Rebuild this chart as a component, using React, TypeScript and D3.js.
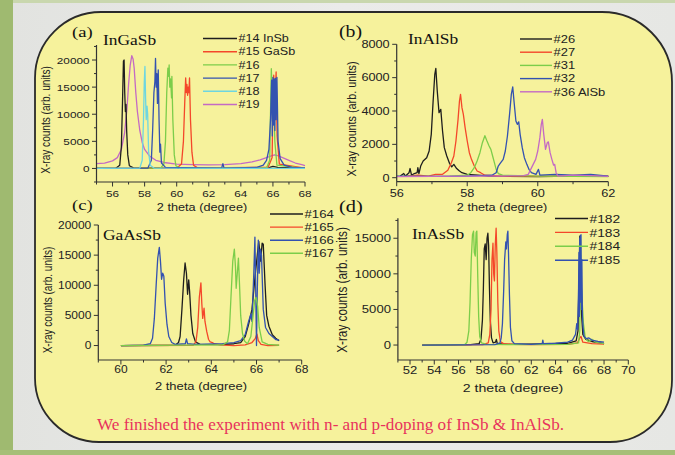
import React from "react";
import * as d3 from "d3";

type Pt = [number, number];

// ---- (a) InGaSb ----
const aNames = ["#14 InSb", "#15 GaSb", "#16", "#17", "#18", "#19"];
const aXTicks = [56, 58, 60, 62, 64, 66, 68];
const aYTicks = [0, 5000, 10000, 15000, 20000];
const a14: Pt[] = [[55, 0], [56.2, 50], [56.45, 600], [56.55, 4000], [56.62, 12000], [56.68, 19800], [56.72, 20000], [56.76, 14000], [56.8, 10500], [56.84, 11800], [56.88, 7000], [56.95, 2500], [57.05, 500], [57.3, 100], [60, 30], [65, 50], [65.8, 200], [66, 400], [66.3, 200], [68, 30]];
const a15: Pt[] = [[55, 0], [60, 50], [60.3, 800], [60.42, 5000], [60.5, 12000], [60.56, 16700], [60.6, 14000], [60.64, 15500], [60.68, 13500], [60.72, 15000], [60.76, 14000], [60.8, 16700], [60.86, 9000], [60.95, 3000], [61.05, 600], [61.3, 100], [65.7, 200], [65.95, 2000], [66.01, 14000], [66.05, 17200], [66.12, 12000], [66.2, 17800], [66.26, 6000], [66.4, 800], [68, 50]];
const a16: Pt[] = [[55, 0], [59, 50], [59.2, 800], [59.3, 5000], [59.38, 14000], [59.45, 18500], [59.5, 17000], [59.53, 19100], [59.57, 15000], [59.62, 16500], [59.68, 13000], [59.7, 17000], [59.76, 9000], [59.85, 2500], [59.95, 500], [60.2, 50], [65.6, 100], [65.8, 1500], [65.86, 12000], [65.9, 18400], [65.95, 14000], [66.03, 16000], [66.12, 5000], [66.25, 600], [68, 30]];
const a17: Pt[] = [[55, 0], [58.2, 50], [58.42, 1500], [58.5, 7000], [58.58, 14000], [58.64, 16000], [58.68, 20300], [58.72, 15000], [58.76, 17500], [58.8, 12000], [58.85, 18200], [58.9, 9000], [58.95, 3000], [58.99, 4500], [59.05, 1000], [59.3, 200], [62.8, 50], [62.88, 900], [62.95, 50], [65, 200], [65.4, 600], [65.6, 1500], [65.75, 3500], [65.85, 9000], [65.92, 16300], [65.96, 6000], [66.0, 16800], [66.04, 8000], [66.08, 16500], [66.12, 7000], [66.16, 16600], [66.2, 9000], [66.25, 16800], [66.32, 5000], [66.45, 1800], [66.7, 600], [67.2, 200], [68, 100]];
const a18: Pt[] = [[55, 0], [57.7, 50], [57.85, 1500], [57.93, 9000], [57.98, 16000], [58.02, 18800], [58.06, 13000], [58.1, 9000], [58.15, 11500], [58.19, 10000], [58.25, 3000], [58.35, 600], [58.6, 50], [68, 0]];
const a19: Pt[] = [[55, 900], [55.5, 1000], [56, 1400], [56.3, 2000], [56.55, 3500], [56.75, 6500], [56.9, 11000], [57.0, 15500], [57.1, 19000], [57.2, 20800], [57.28, 20200], [57.35, 18500], [57.45, 14000], [57.55, 10500], [57.7, 7000], [57.85, 4800], [58, 3500], [58.3, 2300], [58.7, 1500], [59.2, 1100], [60, 800], [61, 700], [62, 650], [63, 700], [64, 900], [64.7, 1200], [65.2, 1600], [65.6, 2000], [65.9, 2300], [66.1, 2500], [66.3, 2350], [66.6, 2000], [67, 1500], [67.4, 1000], [67.8, 700], [68, 500]];

// ---- (b) InAlSb ----
const bNames = ["#26", "#27", "#31", "#32", "#36 AlSb"];
const bXTicks = [56, 58, 60, 62];
const bYTicks = [0, 2000, 4000, 6000, 8000];
const b26: Pt[] = [[56.1, 100], [56.2, 250], [56.25, 100], [56.35, 300], [56.38, 550], [56.42, 150], [56.5, 250], [56.58, 300], [56.6, 600], [56.63, 250], [56.68, 700], [56.75, 1000], [56.85, 1200], [56.92, 1600], [56.98, 2600], [57.03, 4500], [57.08, 6200], [57.11, 6550], [57.15, 5200], [57.2, 3900], [57.25, 4100], [57.3, 2800], [57.35, 1800], [57.42, 1300], [57.5, 850], [57.56, 650], [57.62, 800], [57.7, 550], [57.78, 400], [57.85, 300], [58, 200], [58.3, 150], [58.6, 100], [59, 80], [60, 60], [61, 100], [62, 80]];
const b27: Pt[] = [[56.3, 100], [56.6, 150], [56.9, 100], [57.1, 200], [57.3, 200], [57.45, 450], [57.55, 900], [57.62, 1300], [57.68, 2200], [57.74, 3500], [57.78, 4600], [57.81, 5000], [57.85, 4200], [57.89, 3800], [57.94, 3000], [58.0, 2200], [58.06, 1500], [58.12, 1100], [58.2, 700], [58.28, 400], [58.38, 300], [58.5, 150], [58.9, 100], [59.5, 100], [60.5, 80], [61.5, 120], [62, 80]];
const b31: Pt[] = [[56, 80], [57.5, 100], [58.0, 150], [58.1, 300], [58.2, 600], [58.28, 1000], [58.36, 1500], [58.43, 2100], [58.5, 2520], [58.56, 2200], [58.62, 1900], [58.67, 1700], [58.72, 1300], [58.77, 900], [58.82, 500], [58.88, 250], [59, 150], [60, 100], [61, 80], [62, 60]];
const b32: Pt[] = [[56, 100], [57, 80], [58, 100], [58.7, 150], [58.82, 300], [58.88, 700], [58.95, 900], [59.02, 1100], [59.08, 1600], [59.14, 2500], [59.2, 3800], [59.25, 5000], [59.29, 5450], [59.33, 4500], [59.38, 3400], [59.42, 3200], [59.46, 3350], [59.5, 2600], [59.56, 1800], [59.62, 1200], [59.69, 800], [59.75, 500], [59.82, 300], [59.95, 200], [60.02, 500], [60.06, 150], [60.5, 200], [61, 150], [61.5, 200], [62, 100]];
const b36: Pt[] = [[56, 60], [57, 80], [58, 100], [59, 100], [59.6, 120], [59.73, 200], [59.8, 500], [59.87, 800], [59.94, 1100], [60.0, 1600], [60.06, 2400], [60.1, 3200], [60.13, 3500], [60.17, 2600], [60.22, 1700], [60.27, 2100], [60.3, 2150], [60.35, 1500], [60.4, 1100], [60.45, 750], [60.48, 800], [60.52, 300], [60.57, 100], [61, 150], [61.5, 120], [62, 80]];

// ---- (c) GaAsSb ----
const cNames = ["#164", "#165", "#166", "#167"];
const cXTicks = [60, 62, 64, 66, 68];
const cYTicks = [0, 5000, 10000, 15000, 20000];
const c164: Pt[] = [[60, 0], [62.4, 50], [62.55, 500], [62.62, 1500], [62.7, 6000], [62.78, 11000], [62.84, 13700], [62.9, 12000], [62.95, 8500], [63.0, 10900], [63.04, 9000], [63.1, 5000], [63.18, 2000], [63.3, 600], [63.5, 200], [64.5, 150], [65, 300], [65.3, 500], [65.5, 1500], [65.65, 3500], [65.8, 6000], [65.95, 12000], [66.1, 17300], [66.18, 14000], [66.25, 17000], [66.3, 16800], [66.38, 10000], [66.45, 5000], [66.55, 3200], [66.7, 1800], [66.85, 1200], [67, 800]];
const c165: Pt[] = [[60, 0], [63.2, 50], [63.32, 600], [63.4, 3000], [63.47, 8000], [63.54, 10400], [63.58, 7000], [63.62, 4500], [63.68, 6200], [63.72, 4000], [63.8, 2300], [63.88, 1000], [63.95, 600], [64.05, 500], [64.12, 300], [64.4, 100], [65, 0], [65.5, 100], [65.8, 500], [65.95, 1200], [66.02, 1900], [66.08, 800], [66.2, 200], [66.5, 0], [67, 50]];
const c166: Pt[] = [[60, 0], [61, 50], [61.3, 300], [61.4, 1200], [61.48, 4500], [61.56, 10000], [61.63, 14500], [61.7, 16300], [61.75, 14000], [61.8, 11000], [61.85, 12000], [61.9, 11500], [61.96, 7000], [62.04, 3500], [62.12, 1500], [62.25, 500], [62.4, 200], [62.85, 300], [62.9, 1100], [62.95, 300], [63.3, 200], [64.5, 300], [65, 500], [65.3, 800], [65.5, 1800], [65.65, 4000], [65.75, 5200], [65.8, 4000], [65.88, 12000], [65.93, 18000], [65.97, 8000], [66.0, 0], [66.03, 8000], [66.08, 17500], [66.12, 12000], [66.17, 16000], [66.22, 15000], [66.3, 6000], [66.4, 3000], [66.55, 2000], [66.7, 1500], [66.85, 1000], [67, 900]];
const c167: Pt[] = [[60, 0], [64.5, 100], [64.72, 600], [64.8, 2500], [64.87, 8000], [64.95, 14000], [65.02, 16000], [65.07, 13000], [65.1, 9500], [65.15, 12000], [65.2, 14500], [65.25, 10000], [65.3, 5000], [65.38, 2000], [65.48, 700], [65.6, 300], [65.75, 1500], [65.85, 5000], [65.92, 7500], [65.98, 8000], [66.05, 6500], [66.12, 3000], [66.25, 600], [66.5, 200], [67, 50]];

// ---- (d) InAsSb ----
const dNames = ["#182", "#183", "#184", "#185"];
const dXTicks = [52, 54, 56, 58, 60, 62, 64, 66, 68, 70];
const dYTicks = [0, 5000, 10000, 15000];
const d182: Pt[] = [[53, 0], [57, 50], [57.7, 200], [57.85, 800], [57.97, 3500], [58.05, 8000], [58.12, 13500], [58.2, 14200], [58.28, 12000], [58.35, 15000], [58.42, 15700], [58.48, 14000], [58.55, 8000], [58.62, 3500], [58.72, 1000], [58.85, 300], [59.05, 400], [59.12, 800], [59.2, 200], [60, 100], [63, 150], [65, 250], [65.7, 600], [65.85, 2000], [65.95, 10000], [66.0, 15300], [66.05, 12000], [66.12, 5000], [66.25, 1500], [66.5, 800], [67, 500], [68, 200]];
const d183: Pt[] = [[53, 0], [58, 50], [58.45, 300], [58.58, 1500], [58.68, 5000], [58.76, 12000], [58.84, 14300], [58.9, 10000], [58.96, 9000], [59.03, 14000], [59.1, 16400], [59.16, 13000], [59.24, 6000], [59.32, 2000], [59.45, 500], [59.7, 200], [60.5, 100], [62, 50], [65, 100], [65.8, 300], [66.0, 1000], [66.1, 1200], [66.25, 400], [67, 200], [68, 150]];
const d184: Pt[] = [[53, 0], [56.5, 50], [56.7, 400], [56.85, 2000], [56.95, 6000], [57.05, 12000], [57.15, 15500], [57.24, 16000], [57.3, 13000], [57.38, 12500], [57.45, 15800], [57.51, 16000], [57.58, 10000], [57.66, 4000], [57.75, 1200], [57.9, 300], [58.3, 100], [60, 50], [65, 100], [65.9, 300], [66.0, 2000], [66.06, 14800], [66.1, 9000], [66.2, 6000], [66.3, 3000], [66.45, 1000], [66.7, 500], [67, 800], [67.3, 400], [68, 200]];
const d185: Pt[] = [[53, 0], [59, 50], [59.42, 300], [59.52, 1000], [59.62, 3000], [59.72, 7500], [59.8, 12000], [59.9, 14500], [59.95, 13500], [60.02, 15500], [60.07, 16000], [60.12, 13000], [60.2, 7000], [60.28, 2500], [60.4, 600], [60.6, 200], [62, 100], [62.9, 200], [62.95, 700], [63.0, 200], [64, 250], [65, 400], [65.4, 700], [65.65, 1500], [65.75, 3000], [65.82, 2200], [65.9, 8000], [65.93, 13000], [65.96, 4000], [65.99, 15000], [66.02, 6000], [66.05, 15400], [66.08, 8000], [66.1, 15500], [66.14, 5000], [66.17, 12000], [66.22, 4000], [66.27, 2500], [66.35, 1200], [66.55, 900], [66.75, 1000], [67, 700], [67.5, 500], [68, 400]];

const BLACK = "#1e1e1e";
const RED = "#f4472a";
const GREEN = "#7ccd4a";
const BLUE = "#3352b0";
const CYAN = "#6ed6e0";
const MAGENTA = "#c46ac4";

const SANS = "'Liberation Sans', Arial, sans-serif";
const SERIF = "'Liberation Serif', 'Times New Roman', serif";
const SX = 1.2; // the source figure is stretched sideways

type Series = { name: string; data: Pt[]; color: string };

type PanelCfg = {
  letter: string; title: string;
  series: Series[]; drawOrder: number[];
  xDomain: [number, number]; yDomain: [number, number];
  x0: number; x1: number; yb: number; yt: number;
  xTicks: number[]; yTicks: number[]; yMinor: number;
  tickFs: number; xTickDy: number;
  labFs: number; xLab: [number, number]; yLab: [number, number]; yLabFs: number;
  letterPos: [number, number]; letterFs: number; titlePos: [number, number];
  leg: { lx0: number; lx1: number; y0: number; dy: number; fs: number };
};

const panels: PanelCfg[] = [
  {
    letter: "(a)", title: "InGaSb",
    series: [
      { name: aNames[0], data: a14, color: BLACK },
      { name: aNames[1], data: a15, color: RED },
      { name: aNames[2], data: a16, color: GREEN },
      { name: aNames[3], data: a17, color: BLUE },
      { name: aNames[4], data: a18, color: CYAN },
      { name: aNames[5], data: a19, color: MAGENTA },
    ],
    drawOrder: [5, 0, 1, 2, 3, 4],
    xDomain: [55, 68], yDomain: [-2500, 22770],
    x0: 96.5, x1: 305, yb: 182, yt: 45,
    xTicks: aXTicks, yTicks: aYTicks, yMinor: 2500,
    tickFs: 9.8, xTickDy: 14.5,
    labFs: 10.6, xLab: [202, 211], yLab: [46, 120], yLabFs: 10.1,
    letterPos: [72, 37], letterFs: 15.5, titlePos: [103, 45],
    leg: { lx0: 203, lx1: 237, y0: 38.5, dy: 13.2, fs: 10.5 },
  },
  {
    letter: "(b)", title: "InAlSb",
    series: [
      { name: bNames[0], data: b26, color: BLACK },
      { name: bNames[1], data: b27, color: RED },
      { name: bNames[2], data: b31, color: GREEN },
      { name: bNames[3], data: b32, color: BLUE },
      { name: bNames[4], data: b36, color: MAGENTA },
    ],
    drawOrder: [0, 1, 2, 3, 4],
    xDomain: [56, 62], yDomain: [-240, 8000],
    x0: 396.7, x1: 608.3, yb: 181.7, yt: 44.3,
    xTicks: bXTicks, yTicks: bYTicks, yMinor: 1000,
    tickFs: 10.6, xTickDy: 15,
    labFs: 10.6, xLab: [502, 211], yLab: [352, 119], yLabFs: 10.8,
    letterPos: [339, 37], letterFs: 16.5, titlePos: [408, 44],
    leg: { lx0: 520, lx1: 552, y0: 39, dy: 13.2, fs: 10.8 },
  },
  {
    letter: "(c)", title: "GaAsSb",
    series: [
      { name: cNames[0], data: c164, color: BLACK },
      { name: cNames[1], data: c165, color: RED },
      { name: cNames[2], data: c166, color: BLUE },
      { name: cNames[3], data: c167, color: GREEN },
    ],
    drawOrder: [0, 1, 2, 3],
    xDomain: [59, 68], yDomain: [-2400, 20000],
    x0: 98.3, x1: 301.7, yb: 360, yt: 225,
    xTicks: cXTicks, yTicks: cYTicks, yMinor: 2500,
    tickFs: 10, xTickDy: 12.5,
    labFs: 10.8, xLab: [201, 390], yLab: [47.5, 300], yLabFs: 10,
    letterPos: [72, 210], letterFs: 15.5, titlePos: [103, 240],
    leg: { lx0: 270, lx1: 303, y0: 214, dy: 13.1, fs: 11 },
  },
  {
    letter: "(d)", title: "InAsSb",
    series: [
      { name: dNames[0], data: d182, color: BLACK },
      { name: dNames[1], data: d183, color: RED },
      { name: dNames[2], data: d184, color: GREEN },
      { name: dNames[3], data: d185, color: BLUE },
    ],
    drawOrder: [0, 1, 2, 3],
    xDomain: [51, 70], yDomain: [-2100, 17800],
    x0: 397.9, x1: 628.3, yb: 360, yt: 218.3,
    xTicks: dXTicks, yTicks: dYTicks, yMinor: 2500,
    tickFs: 10.9, xTickDy: 13.5,
    labFs: 11.8, xLab: [513, 392], yLab: [342, 290], yLabFs: 11.8,
    letterPos: [339, 212], letterFs: 17, titlePos: [412, 239],
    leg: { lx0: 555, lx1: 588, y0: 218.5, dy: 13.9, fs: 11.5 },
  },
];

function SText(props: {
  x: number; y: number; size: number; anchor?: string; family?: string;
  fill?: string; children: React.ReactNode; rotate?: boolean;
}) {
  const { x, y, size, anchor = "start", family = SANS, fill = "#222", rotate } = props;
  const tr = rotate
    ? `translate(${x},${y}) rotate(-90) scale(1,${SX})`
    : `translate(${x},${y}) scale(${SX},1)`;
  return (
    <text transform={tr} fontSize={size} fontFamily={family} fill={fill} textAnchor={anchor}
      dominantBaseline={rotate ? "central" : undefined}>
      {props.children}
    </text>
  );
}

function Panel({ cfg }: { cfg: PanelCfg }) {
  const x = d3.scaleLinear().domain(cfg.xDomain).range([cfg.x0, cfg.x1]);
  const y = d3.scaleLinear().domain(cfg.yDomain).range([cfg.yb, cfg.yt]);
  const line = d3.line<Pt>().x((d) => x(d[0])).y((d) => y(d[1]));
  const xMinor = d3.range(Math.ceil(cfg.xDomain[0]), cfg.xDomain[1] + 0.001, 1)
    .filter((v) => !cfg.xTicks.includes(v));
  const yMinor = d3.range(Math.ceil(cfg.yDomain[0] / cfg.yMinor) * cfg.yMinor, cfg.yDomain[1] + 1, cfg.yMinor)
    .filter((v) => !cfg.yTicks.includes(v));
  const axisColor = "#333";
  return (
    <g>
      {cfg.drawOrder.map((i) => (
        <path key={i} d={line(cfg.series[i].data) || ""} fill="none"
          stroke={cfg.series[i].color} strokeWidth={1.3} strokeLinejoin="round" />
      ))}
      <line x1={cfg.x0} x2={cfg.x0} y1={cfg.yb} y2={cfg.yt} stroke={axisColor} strokeWidth={1.2} />
      <line x1={cfg.x0} x2={cfg.x1} y1={cfg.yb} y2={cfg.yb} stroke={axisColor} strokeWidth={1.2} />
      {cfg.xTicks.map((t) => (
        <g key={"xt" + t}>
          <line x1={x(t)} x2={x(t)} y1={cfg.yb} y2={cfg.yb + 4.5} stroke={axisColor} strokeWidth={1} />
          <SText x={x(t)} y={cfg.yb + cfg.xTickDy} size={cfg.tickFs} anchor="middle">{t}</SText>
        </g>
      ))}
      {xMinor.map((t) => (
        <line key={"xm" + t} x1={x(t)} x2={x(t)} y1={cfg.yb} y2={cfg.yb + 2.5} stroke={axisColor} strokeWidth={1} />
      ))}
      {cfg.yTicks.map((t) => (
        <g key={"yt" + t}>
          <line x1={cfg.x0 - 4.5} x2={cfg.x0} y1={y(t)} y2={y(t)} stroke={axisColor} strokeWidth={1} />
          <SText x={cfg.x0 - 7} y={y(t) + cfg.tickFs * 0.36} size={cfg.tickFs} anchor="end">{t}</SText>
        </g>
      ))}
      {yMinor.map((t) => (
        <line key={"ym" + t} x1={cfg.x0 - 2.5} x2={cfg.x0} y1={y(t)} y2={y(t)} stroke={axisColor} strokeWidth={1} />
      ))}
      <SText x={cfg.xLab[0]} y={cfg.xLab[1]} size={cfg.labFs} anchor="middle">2 theta (degree)</SText>
      <SText x={cfg.yLab[0]} y={cfg.yLab[1]} size={cfg.yLabFs} anchor="middle" rotate>X-ray counts (arb. units)</SText>
      <SText x={cfg.letterPos[0]} y={cfg.letterPos[1]} size={cfg.letterFs} family={SERIF} fill="#111">{cfg.letter}</SText>
      <SText x={cfg.titlePos[0]} y={cfg.titlePos[1]} size={14.5} family={SERIF} fill="#111">{cfg.title}</SText>
      {cfg.series.map((s, i) => {
        const ly = cfg.leg.y0 + i * cfg.leg.dy;
        return (
          <g key={"lg" + i}>
            <line x1={cfg.leg.lx0} x2={cfg.leg.lx1} y1={ly} y2={ly} stroke={s.color} strokeWidth={1.4} />
            <SText x={cfg.leg.lx1 + 1.5} y={ly + cfg.leg.fs * 0.36} size={cfg.leg.fs}>{s.name}</SText>
          </g>
        );
      })}
    </g>
  );
}

export default function App() {
  const W = 675, H = 455;
  const L = 35, R = 672, T = 12, B = 442;
  const rTL = 66, rTR = 70, rBR = 62, rBL = 64;
  const frame = `M ${L + rTL} ${T} H ${R - rTR} A ${rTR} ${rTR} 0 0 1 ${R} ${T + rTR} V ${B - rBR} A ${rBR} ${rBR} 0 0 1 ${R - rBR} ${B} H ${L + rBL} A ${rBL} ${rBL} 0 0 1 ${L} ${B - rBL} V ${T + rTL} A ${rTL} ${rTL} 0 0 1 ${L + rTL} ${T} Z`;
  return (
    <svg width={W} height={H} style={{ position: "absolute", left: 0, top: 0 }}>
      <defs>
        <linearGradient id="bg" x1="0" y1="0" x2="1" y2="0">
          <stop offset="0" stopColor="#e2e3e0" />
          <stop offset="0.5" stopColor="#ebebea" />
          <stop offset="1" stopColor="#e6e7e4" />
        </linearGradient>
      </defs>
      <rect x={0} y={0} width={W} height={H} fill="#c9d7ae" />
      <rect x={13} y={3} width={W - 13} height={447} fill="url(#bg)" />
      <rect x={0} y={0} width={13} height={H} fill="#9fba70" />
      <rect x={0} y={450} width={W} height={5} fill="#a6bf78" />
      <path d={frame} fill="#f6f29c" stroke="#2a2a2a" strokeWidth={1.8} />
      {panels.map((p) => <Panel key={p.letter} cfg={p} />)}
      <text x={97} y={430} fontFamily={SERIF} fontSize={16} fill="#e8335c" textLength={467} lengthAdjust="spacingAndGlyphs">
        We finished the experiment with n- and p-doping of InSb &amp; InAlSb.
      </text>
    </svg>
  );
}
